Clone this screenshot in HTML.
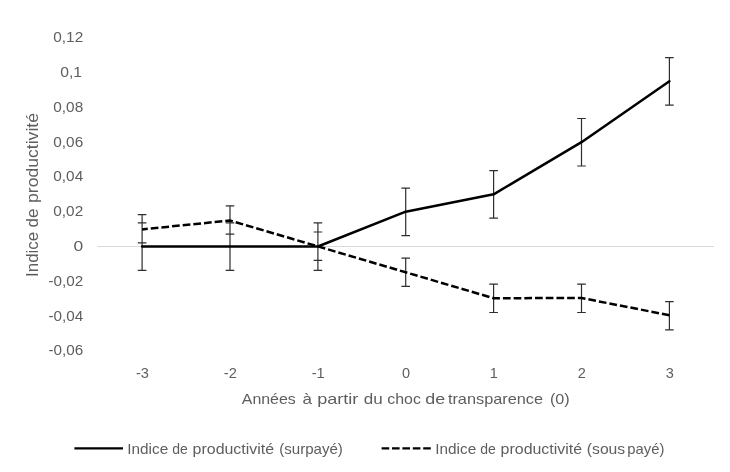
<!DOCTYPE html>
<html lang="fr">
<head>
<meta charset="utf-8">
<title>Indice de productivité</title>
<style>
html,body{margin:0;padding:0;background:#fff;}
body{width:730px;height:472px;overflow:hidden;}
svg{display:block;filter:blur(0.35px);}
text{font-family:"Liberation Sans",sans-serif;fill:#5e5e5e;}
</style>
</head>
<body>
<svg width="730" height="472" viewBox="0 0 730 472">
<rect width="730" height="472" fill="#fff"/>
<line x1="97.8" y1="246.5" x2="714" y2="246.5" stroke="#d9d9d9" stroke-width="1.2"/>
<path d="M142.1 222.9V270.4M137.8 222.9H146.4M137.8 270.4H146.4M142.1 214.6V242.9M137.8 214.6H146.4M137.8 242.9H146.4M230.0 222.9V270.4M225.7 222.9H234.3M225.7 270.4H234.3M230.0 205.9V234.2M225.7 205.9H234.3M225.7 234.2H234.3M317.9 222.9V270.4M313.6 222.9H322.2M313.6 270.4H322.2M317.9 232.0V260.3M313.6 232.0H322.2M313.6 260.3H322.2M405.7 188.1V235.6M401.4 188.1H410.0M401.4 235.6H410.0M405.7 258.2V286.4M401.4 258.2H410.0M401.4 286.4H410.0M493.6 170.7V218.2M489.3 170.7H497.9M489.3 218.2H497.9M493.6 284.2V312.5M489.3 284.2H497.9M489.3 312.5H497.9M581.5 118.5V166.0M577.2 118.5H585.8M577.2 166.0H585.8M581.5 284.2V312.5M577.2 284.2H585.8M577.2 312.5H585.8M669.4 57.6V105.1M665.1 57.6H673.7M665.1 105.1H673.7M669.4 301.7V329.9M665.1 301.7H673.7M665.1 329.9H673.7" fill="none" stroke="#2e2e2e" stroke-width="1.2"/>
<polyline points="142.1,229.4 230.0,220.5 317.9,246.4 405.7,272.3 493.6,298.2 581.5,298.0 669.4,315.2" fill="none" stroke="#000" stroke-width="2.5" stroke-dasharray="7.7 3" stroke-dashoffset="2" stroke-linejoin="round"/>
<polyline points="142.1,246.5 230.0,246.5 317.9,246.5 405.7,211.7 493.6,194.3 581.5,142.2 669.4,81.2" fill="none" stroke="#000" stroke-width="2.5" stroke-linejoin="round" stroke-linecap="round"/>
<g font-size="14" text-anchor="end">
<text x="83.2" y="42.2" textLength="29.9" lengthAdjust="spacingAndGlyphs">0,12</text>
<text x="82.0" y="77.0" textLength="21.8" lengthAdjust="spacingAndGlyphs">0,1</text>
<text x="83.2" y="111.8" textLength="29.9" lengthAdjust="spacingAndGlyphs">0,08</text>
<text x="83.2" y="146.6" textLength="29.9" lengthAdjust="spacingAndGlyphs">0,06</text>
<text x="83.2" y="181.4" textLength="29.9" lengthAdjust="spacingAndGlyphs">0,04</text>
<text x="83.2" y="216.2" textLength="29.9" lengthAdjust="spacingAndGlyphs">0,02</text>
<text x="83.2" y="251.0" textLength="9.7" lengthAdjust="spacingAndGlyphs">0</text>
<text x="83.2" y="285.8" textLength="34.8" lengthAdjust="spacingAndGlyphs">-0,02</text>
<text x="83.2" y="320.6" textLength="34.8" lengthAdjust="spacingAndGlyphs">-0,04</text>
<text x="83.2" y="355.4" textLength="34.8" lengthAdjust="spacingAndGlyphs">-0,06</text>
</g>
<g font-size="14" text-anchor="middle">
<text x="142.4" y="377.6" textLength="13.0" lengthAdjust="spacingAndGlyphs">-3</text>
<text x="230.3" y="377.6" textLength="13.0" lengthAdjust="spacingAndGlyphs">-2</text>
<text x="318.2" y="377.6" textLength="13.0" lengthAdjust="spacingAndGlyphs">-1</text>
<text x="406.0" y="377.6" textLength="8.1" lengthAdjust="spacingAndGlyphs">0</text>
<text x="493.9" y="377.6" textLength="8.1" lengthAdjust="spacingAndGlyphs">1</text>
<text x="581.8" y="377.6" textLength="8.1" lengthAdjust="spacingAndGlyphs">2</text>
<text x="669.7" y="377.6" textLength="8.1" lengthAdjust="spacingAndGlyphs">3</text>
</g>
<g font-size="14.8">
<text x="241.8" y="404.3" textLength="54.0" lengthAdjust="spacingAndGlyphs">Années</text>
<text x="302.5" y="404.3" textLength="9.5" lengthAdjust="spacingAndGlyphs">à</text>
<text x="317.2" y="404.3" textLength="41.2" lengthAdjust="spacingAndGlyphs">partir</text>
<text x="363.7" y="404.3" textLength="19.0" lengthAdjust="spacingAndGlyphs">du</text>
<text x="387.2" y="404.3" textLength="33.7" lengthAdjust="spacingAndGlyphs">choc</text>
<text x="425.2" y="404.3" textLength="19.9" lengthAdjust="spacingAndGlyphs">de</text>
<text x="447.9" y="404.3" textLength="95.2" lengthAdjust="spacingAndGlyphs">transparence</text>
<text x="549.9" y="404.3" textLength="19.8" lengthAdjust="spacingAndGlyphs">(0)</text>
</g>
<g font-size="15.8" transform="translate(37.6 275.4) rotate(-90)">
<text x="-1.5" y="0.0" textLength="45.1" lengthAdjust="spacingAndGlyphs">Indice</text>
<text x="48.0" y="0.0" textLength="18.9" lengthAdjust="spacingAndGlyphs">de</text>
<text x="72.4" y="0.0" textLength="90.0" lengthAdjust="spacingAndGlyphs">productivité</text>
</g>
<line x1="74.4" y1="448.4" x2="123" y2="448.4" stroke="#000" stroke-width="2.4"/>
<line x1="381.6" y1="448.4"  x2="430.8" y2="448.4" stroke="#000" stroke-width="2.4" stroke-dasharray="7.6 2.8"/>
<g font-size="14.1">
<text x="127.3" y="453.7" textLength="40.9" lengthAdjust="spacingAndGlyphs">Indice</text>
<text x="172.3" y="453.7" textLength="15.6" lengthAdjust="spacingAndGlyphs">de</text>
<text x="192.6" y="453.7" textLength="81.5" lengthAdjust="spacingAndGlyphs">productivité</text>
<text x="279.2" y="453.7" textLength="63.7" lengthAdjust="spacingAndGlyphs">(surpayé)</text>
</g>
<g font-size="14.1">
<text x="435.3" y="453.7" textLength="40.9" lengthAdjust="spacingAndGlyphs">Indice</text>
<text x="480.3" y="453.7" textLength="15.6" lengthAdjust="spacingAndGlyphs">de</text>
<text x="500.6" y="453.7" textLength="81.5" lengthAdjust="spacingAndGlyphs">productivité</text>
<text x="586.8" y="453.7" textLength="38.4" lengthAdjust="spacingAndGlyphs">(sous</text>
<text x="627.3" y="453.7" textLength="37.1" lengthAdjust="spacingAndGlyphs">payé)</text>
</g>
</svg>
</body>
</html>
